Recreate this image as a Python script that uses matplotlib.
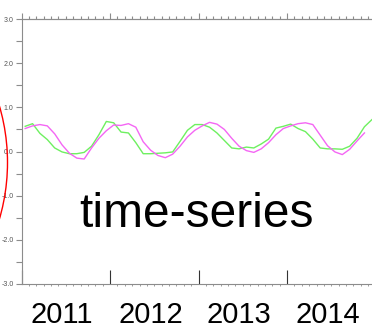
import numpy as np
import matplotlib
matplotlib.use("Agg")
import matplotlib.pyplot as plt
from matplotlib.ticker import MultipleLocator, FormatStrFormatter
from matplotlib.patches import Circle

plt.rcParams['font.family'] = ['Liberation Sans', 'DejaVu Sans']
plt.rcParams['axes.unicode_minus'] = False

# monthly values, starting Jan 2011 (mid-month)
start_year = 2011
green_vals = [0.57, 0.63, 0.41, 0.27, 0.08, -0.01, -0.05, -0.05, -0.02, 0.12, 0.38, 0.68,
              0.65, 0.44, 0.42, 0.20, -0.05, -0.05, -0.04, -0.03, -0.01, 0.23, 0.48, 0.61,
              0.61, 0.55, 0.42, 0.25, 0.08, 0.06, 0.10, 0.08, 0.17, 0.28, 0.53, 0.57,
              0.62, 0.52, 0.45, 0.28, 0.08, 0.06, 0.06, 0.05, 0.12, 0.30, 0.56, 0.72]
magenta_vals = [0.52, 0.58, 0.61, 0.58, 0.40, 0.15, -0.04, -0.15, -0.17, 0.08, 0.30, 0.47,
                0.60, 0.59, 0.63, 0.55, 0.22, 0.03, -0.09, -0.14, -0.06, 0.12, 0.33, 0.48,
                0.58, 0.66, 0.62, 0.50, 0.30, 0.12, 0.02, -0.02, 0.06, 0.20, 0.38, 0.52,
                0.58, 0.63, 0.65, 0.61, 0.37, 0.13, -0.01, -0.07, 0.05, 0.24, 0.42]
year_labels = ['2011', '2012', '2013', '2014']
title_text = 'time-series'

t_green = start_year + (np.arange(len(green_vals)) + 0.5) / 12.0
t_magenta = start_year + (np.arange(len(magenta_vals)) + 0.5) / 12.0

fig = plt.figure(figsize=(3.72, 3.35), dpi=100)
ax = fig.add_axes([21.5 / 372, 51 / 335, 354 / 372, 265 / 335])

ax.plot(t_green, green_vals, color='#6ef060', lw=1.0)
ax.plot(t_magenta, magenta_vals, color='#f466f4', lw=1.0)

ax.set_xlim(2011, 2015)
ax.set_ylim(-3, 3)

grey = '#8c8c8c'
for s in ax.spines.values():
    s.set_color(grey)
    s.set_linewidth(0.8)

# y axis
ax.yaxis.set_major_locator(MultipleLocator(1))
ax.yaxis.set_minor_locator(MultipleLocator(0.5))
ax.yaxis.set_major_formatter(FormatStrFormatter('%.1f'))
ax.tick_params(axis='y', which='both', direction='out', length=4.5, width=0.8,
               color=grey, labelsize=5, labelcolor='#555555', pad=1.2)

# bottom x axis: long major ticks pointing up, small minor ticks
ax.xaxis.set_major_locator(MultipleLocator(1))
ax.xaxis.set_minor_locator(MultipleLocator(1 / 12))
ax.tick_params(axis='x', which='major', direction='in', length=10, width=0.8,
               color='#333333', labelbottom=False)
ax.tick_params(axis='x', which='minor', direction='out', length=1.5, width=0.6,
               color=grey)

# top x axis: monthly ticks pointing up
top = ax.secondary_xaxis('top')
top.xaxis.set_major_locator(MultipleLocator(1))
top.xaxis.set_minor_locator(MultipleLocator(1 / 12))
top.tick_params(which='major', direction='out', length=4.5, width=0.8, color=grey,
                labeltop=False)
top.tick_params(which='minor', direction='out', length=2.2, width=0.8, color=grey)
top.spines['top'].set_color(grey)
top.spines['top'].set_linewidth(0.8)

# year labels under the axis
for i, lab in enumerate(year_labels):
    ax.text(start_year + i + 0.46, -0.147, lab, transform=ax.get_xaxis_transform(),
            ha='center', va='baseline', fontsize=21, color='black')

fig.text(196.5 / 372, (335 - 227) / 335, title_text, ha='center', va='baseline',
         fontsize=34.5, color='black')

# red circle edge on the left
fig.add_artist(Circle((-1.943, 1.725), 2.018, transform=fig.dpi_scale_trans,
                      fill=False, ec='red', lw=1.0))

fig.savefig('out.png', dpi=100)
